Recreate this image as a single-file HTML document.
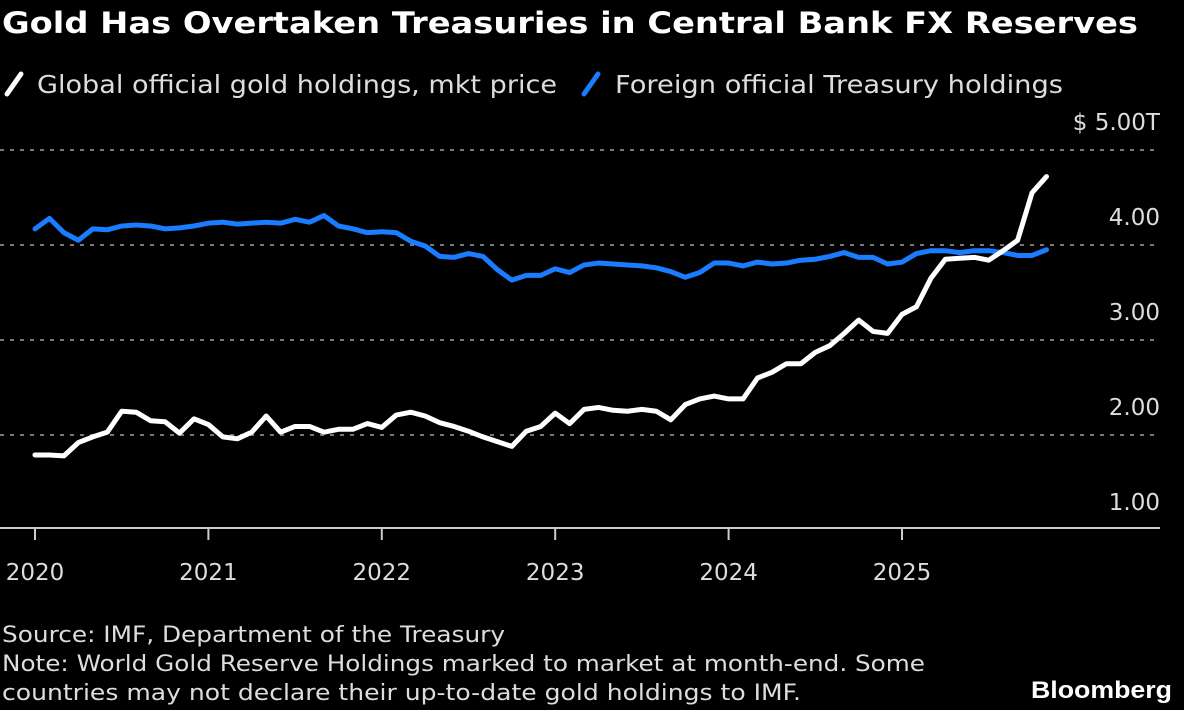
<!DOCTYPE html>
<html><head><meta charset="utf-8"><style>
html,body{margin:0;padding:0;background:#000;width:1184px;height:710px;overflow:hidden;font-family:"DejaVu Sans",sans-serif;color:#fff}
</style></head><body>
<svg width="1184" height="710" style="position:absolute;left:0;top:0" font-family="DejaVu Sans, sans-serif">
<text x="2" y="33" font-size="29" font-weight="bold" fill="#fff" textLength="1136" lengthAdjust="spacingAndGlyphs">Gold Has Overtaken Treasuries in Central Bank FX Reserves</text>
<g font-size="25" fill="#ddd">
<line x1="7" y1="94" x2="21" y2="74" stroke="#fff" stroke-width="5" stroke-linecap="round"/>
<text x="37" y="93" textLength="520" lengthAdjust="spacingAndGlyphs">Global official gold holdings, mkt price</text>
<line x1="584" y1="94" x2="598" y2="74" stroke="#1a7cff" stroke-width="5" stroke-linecap="round"/>
<text x="615" y="93" textLength="448" lengthAdjust="spacingAndGlyphs">Foreign official Treasury holdings</text>
</g>
<g id="grid"></g><g id="xaxis"></g><g id="series"></g>
<g font-size="22" fill="#ddd">
<text x="2" y="642" textLength="503" lengthAdjust="spacingAndGlyphs">Source: IMF, Department of the Treasury</text>
<text x="2" y="671" textLength="923" lengthAdjust="spacingAndGlyphs">Note: World Gold Reserve Holdings marked to market at month-end. Some</text>
<text x="2" y="700" textLength="799" lengthAdjust="spacingAndGlyphs">countries may not declare their up-to-date gold holdings to IMF.</text>
</g>
<text x="1031" y="698" font-size="24" font-weight="bold" fill="#fff" font-family="Liberation Sans, sans-serif" textLength="141" lengthAdjust="spacingAndGlyphs">Bloomberg</text>
</svg>
<script>
const yTicks=[1,2,3,4,5];
const yTickLabels=["1.00","2.00","3.00","4.00","$ 5.00T"];
const years=["2020","2021","2022","2023","2024","2025"];
const gold=[1.79,1.79,1.78,1.92,1.98,2.03,2.25,2.24,2.15,2.14,2.02,2.17,2.11,1.98,1.96,2.03,2.20,2.03,2.09,2.09,2.03,2.06,2.06,2.12,2.08,2.21,2.24,2.20,2.13,2.09,2.04,1.98,1.93,1.88,2.04,2.09,2.23,2.12,2.27,2.29,2.26,2.25,2.27,2.25,2.16,2.32,2.38,2.41,2.38,2.38,2.60,2.66,2.75,2.75,2.87,2.94,3.07,3.21,3.09,3.07,3.27,3.35,3.65,3.85,3.86,3.87,3.84,3.94,4.05,4.55,4.72];
const treasury=[4.17,4.28,4.13,4.05,4.17,4.16,4.20,4.21,4.20,4.17,4.18,4.20,4.23,4.24,4.22,4.23,4.24,4.23,4.27,4.24,4.31,4.20,4.17,4.13,4.14,4.13,4.04,3.99,3.88,3.87,3.91,3.88,3.74,3.63,3.68,3.68,3.75,3.71,3.79,3.81,3.80,3.79,3.78,3.76,3.72,3.66,3.71,3.81,3.81,3.78,3.82,3.80,3.81,3.84,3.85,3.88,3.92,3.87,3.87,3.80,3.82,3.91,3.94,3.94,3.92,3.94,3.94,3.92,3.89,3.89,3.95];
const NS="http://www.w3.org/2000/svg";
const yS=v=>530-(v-1)*95;
const xS=m=>35+m*(173.4/12);
function mk(tag,attrs,parent){const e=document.createElementNS(NS,tag);for(const k in attrs)e.setAttribute(k,attrs[k]);parent.appendChild(e);return e;}
const grid=document.getElementById('grid');
yTicks.forEach((v,i)=>{
  if(i>0){const l=mk('line',{x1:0,x2:1160,y1:yS(v),y2:yS(v),stroke:'#777','stroke-width':2,'stroke-dasharray':'4 6'},grid);
  
  }
  const t=mk('text',{x:1160,y:yS(v)-20,'text-anchor':'end','font-size':23,fill:'#ddd'},grid);
  t.textContent=yTickLabels[i];
  
  
});
const xa=document.getElementById('xaxis');
const ax=mk('line',{x1:0,x2:1160,y1:528,y2:528,stroke:'#ccc','stroke-width':2},xa);


years.forEach((y,i)=>{
  const x=xS(i*12);
  const tk=mk('line',{x1:x,x2:x,y1:528,y2:540,stroke:'#ccc','stroke-width':2},xa);
  
  
  const t=mk('text',{x:x,y:580,'text-anchor':'middle','font-size':23,fill:'#ddd'},xa);
  t.textContent=y;
  
  
});
const sg=document.getElementById('series');
function line(data,color,name){
  const p=mk('polyline',{points:data.map((v,i)=>xS(i)+','+yS(v)).join(' '),fill:'none',stroke:color,'stroke-width':5,'stroke-linejoin':'round','stroke-linecap':'round'},sg);
  
  
}
line(treasury,'#1a7cff','treasury-line');
line(gold,'#ffffff','gold-line');
</script>
</body></html>
